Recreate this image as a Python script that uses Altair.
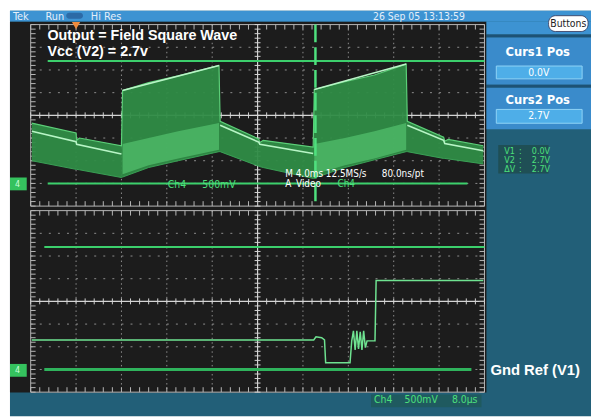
import altair as alt
import pandas as pd
import numpy as np

# Upper trace (Ch4, 4.0 ms/div, 500 mV/div) : envelope of the video field waveform
top_t_ms = [0.1, 4.0, 4.05, 4.3, 8.0, 8.1, 10.4, 13.0, 16.6, 16.7, 20.1, 20.2, 20.5,
            24.9, 25.0, 27.7, 30.3, 33.1, 33.2, 36.4, 36.5, 36.8, 39.9]
top_hi_v = [1.33, 1.11, 0.95, 1.00, 0.83, 2.05, 2.22, 2.37, 2.60, 1.37, 0.98, 0.90, 0.95,
            0.80, 2.07, 2.24, 2.39, 2.63, 1.37, 1.02, 0.93, 0.97, 0.83]
top_lo_v = [0.50, 0.31, 0.31, 0.30, 0.13, 0.14, 0.35, 0.50, 0.70, 0.70, 0.38, 0.37, 0.35,
            0.11, 0.12, 0.35, 0.52, 0.70, 0.70, 0.55, 0.55, 0.54, 0.43]
# brighter overlapping band during the rising part
inner_seg = [1, 1, 1, 1, 2, 2, 2, 2]
inner_t_ms = [8.1, 10.4, 13.0, 16.6, 25.0, 27.7, 30.3, 33.1]
inner_hi_v = [0.87, 1.00, 1.15, 1.33, 0.87, 1.00, 1.15, 1.33]
inner_lo_v = [0.20, 0.40, 0.55, 0.74, 0.20, 0.40, 0.55, 0.74]
# bright trace lines
trace_seg = [1, 1, 1, 1, 2, 2, 3, 3, 3, 3, 4, 4, 5, 5, 5, 5]
trace_t_ms = [0.1, 4.0, 4.05, 8.0, 8.1, 16.6, 16.7, 20.1, 20.2, 24.9, 25.0, 33.1, 33.2, 36.4, 36.5, 39.9]
trace_v = [1.15, 0.92, 0.86, 0.65, 2.05, 2.60, 1.28, 0.91, 0.86, 0.66, 2.07, 2.63, 1.28, 0.95, 0.88, 0.72]

# Lower trace (Ch4, 8.0 us/div, 500 mV/div)
bot_t_us = [0.2, 49.9, 50.3, 51.3, 51.8, 52.0, 56.3, 56.6, 56.9, 57.2, 57.5, 57.8, 58.1,
            58.4, 58.7, 59.0, 59.3, 60.7, 60.9, 79.8]
bot_v = [0.65, 0.65, 0.72, 0.70, 0.65, 0.15, 0.15, 0.63, 0.85, 0.43, 0.85, 0.45, 0.83,
         0.43, 0.85, 0.48, 0.63, 0.63, 1.96, 1.96]

# cursors
cursor_names = ["V1", "V2"]
cursor_v = [0.0, 2.7]
top_cursor_span_ms = [[1.5, 38.5], [1.5, 40.0]]
bot_cursor_span_us = [[2.4, 77.7], [2.4, 80.0]]
trigger_t_ms = 25.1

# scope settings
TOP_MS_DIV = 4.0
BOT_US_DIV = 8.0
V_DIV = 0.5
TOP_GND_ROW = 7.0
BOT_ROW0 = 8.2
BOT_GND_ROW = 15.2

# ---------------- scales (graticule divisions) ----------------
XS = alt.Scale(domain=[-0.5, 591 / 46 - 0.5], nice=False, zero=False)
YS = alt.Scale(domain=[-14 / 23, 397 / 23], nice=False, zero=False, reverse=True)


def X(px):
    return (px - 31) / 46


def Y(py):
    return (py - 22) / 23


def xe(f="x"):
    return alt.X(f"{f}:Q", scale=XS, axis=None)


def ye(f="y"):
    return alt.Y(f"{f}:Q", scale=YS, axis=None)


layers = []


def rect(x1, y1, x2, y2, color, radius=0, stroke=None, sw=0):
    d = pd.DataFrame({"x": [X(x1)], "x2": [X(x2)], "y": [Y(y1)], "y2": [Y(y2)]})
    kw = dict(color=color, cornerRadius=radius)
    if stroke:
        kw.update(stroke=stroke, strokeWidth=sw)
    layers.append(alt.Chart(d).mark_rect(**kw).encode(x=xe(), x2="x2:Q", y=ye(), y2="y2:Q"))


FN = "Liberation Sans Narrow, DejaVu Sans Condensed, Arial Narrow, sans-serif"
FB = "Liberation Sans, Arial, sans-serif"


def txt(s, px, py, size=10, color="white", weight="normal", align="left", font=FN):
    d = pd.DataFrame({"x": [X(px)], "y": [Y(py)], "t": [s]})
    layers.append(alt.Chart(d).mark_text(align=align, baseline="middle", fontSize=size,
                                         color=color, fontWeight=weight, font=font)
                  .encode(x=xe(), y=ye(), text="t:N"))


def rules(df, color, width=1, dash=None, opacity=1):
    kw = dict(color=color, strokeWidth=width, opacity=opacity)
    if dash:
        kw["strokeDash"] = dash
    layers.append(alt.Chart(df).mark_rule(**kw).encode(x=xe(), x2="x2:Q", y=ye(), y2="y2:Q"))


# ---------------- chrome ----------------
TEAL = "#225f78"
BLUE = "#3d93d2"
rect(10, 8, 599, 419, TEAL)
rect(10, 8, 599, 19, BLUE)
rect(10, 19, 493, 395, "#1c1c1c")
rect(493, 19, 599, 32, BLUE)
rect(493, 32, 599, 35, "#1d5275")
rect(493, 35, 599, 83, "#3a8bcb")
rect(493, 83, 599, 86, "#1d5275")
rect(493, 86, 599, 128, "#3a8bcb")
rect(503, 64, 590, 77, "#4eaee8", stroke="#8fd3f6", sw=1)
rect(503, 108, 590, 122, "#4eaee8", stroke="#8fd3f6", sw=1)
rect(556, 13, 596, 29, "white", radius=7, stroke="#335", sw=0.8)
rect(67, 10, 84, 16, "#2c6aa6", radius=3)
rect(10, 177, 27, 190, "#35c25e")
rect(10, 366, 27, 379, "#35c25e")
rect(376, 397, 488, 410, "#1f5a5f")
rect(505, 144, 556, 173, "#1f4f55")

# ---------------- graticule ----------------
minor_x = np.round(np.arange(0, 10.0001, 0.2), 3)
minor_y = np.round(np.arange(0, 8.0001, 0.2), 3)
for r0 in [0.0, BOT_ROW0]:
    # dotted division lines
    hl = [r0 + k for k in [1, 2, 3, 5, 6, 7]]
    rules(pd.DataFrame({"x": 0.0, "x2": 10.0, "y": hl, "y2": hl}), "#8e8e8e", 1, [2, 7.2])
    vl = [1, 2, 3, 4, 6, 7, 8, 9]
    rules(pd.DataFrame({"x": vl, "x2": vl, "y": r0, "y2": r0 + 8}), "#8e8e8e", 1, [1.5, 3.1])
    # frame
    rules(pd.DataFrame({"x": [0, 0, 0, 10], "x2": [10, 10, 0, 10],
                        "y": [r0, r0 + 8, r0, r0], "y2": [r0, r0 + 8, r0 + 8, r0 + 8]}),
          "#b8b8b8", 1)
    # center cross
    rules(pd.DataFrame({"x": [0, 5], "x2": [10, 5], "y": [r0 + 4, r0], "y2": [r0 + 4, r0 + 8]}),
          "#d4d4d4", 1.2)
    # ticks
    tx = pd.DataFrame({"x": minor_x, "x2": minor_x})
    ty = pd.DataFrame({"y": r0 + minor_y, "y2": r0 + minor_y})
    rules(tx.assign(y=r0, y2=r0 + 5 / 23), "#b8b8b8", 1)
    rules(tx.assign(y=r0 + 8, y2=r0 + 8 - 5 / 23), "#b8b8b8", 1)
    rules(tx.assign(y=r0 + 4 - 3 / 23, y2=r0 + 4 + 3 / 23), "#d4d4d4", 1)
    rules(ty.assign(x=0, x2=5 / 46), "#b8b8b8", 1)
    rules(ty.assign(x=10, x2=10 - 5 / 46), "#b8b8b8", 1)
    rules(ty.assign(x=5 - 3 / 46, x2=5 + 3 / 46), "#d4d4d4", 1)

# ---------------- upper waveform ----------------
top = pd.DataFrame({"t": top_t_ms, "hi": top_hi_v, "lo": top_lo_v})
top["x"] = top.t / TOP_MS_DIV
top["y"] = TOP_GND_ROW - top.hi / V_DIV
top["y2"] = TOP_GND_ROW - top.lo / V_DIV
layers.append(alt.Chart(top).mark_area(color="#2f8c46", opacity=0.95)
              .encode(x=xe(), y=ye(), y2="y2:Q"))
inner = pd.DataFrame({"s": inner_seg, "t": inner_t_ms, "hi": inner_hi_v, "lo": inner_lo_v})
inner["x"] = inner.t / TOP_MS_DIV
inner["y"] = TOP_GND_ROW - inner.hi / V_DIV
inner["y2"] = TOP_GND_ROW - inner.lo / V_DIV
layers.append(alt.Chart(inner).mark_area(color="#4bb565", opacity=0.9)
              .encode(x=xe(), y=ye(), y2="y2:Q", detail="s:N"))
layers.append(alt.Chart(top).mark_line(color="#5ccf78", strokeWidth=1.2)
              .encode(x=xe(), y=ye()))
layers.append(alt.Chart(top).mark_line(color="#3aa055", strokeWidth=1)
              .encode(x=xe(), y=ye("y2")))
tr = pd.DataFrame({"s": trace_seg, "t": trace_t_ms, "v": trace_v})
tr["x"] = tr.t / TOP_MS_DIV
tr["y"] = TOP_GND_ROW - tr.v / V_DIV
layers.append(alt.Chart(tr).mark_line(color="#b8f5c6", strokeWidth=1.6)
              .encode(x=xe(), y=ye(), detail="s:N"))

# cursors upper panel
cu = pd.DataFrame({"n": cursor_names, "v": cursor_v,
                   "a": [s[0] for s in top_cursor_span_ms], "b": [s[1] for s in top_cursor_span_ms]})
cu["x"] = cu.a / TOP_MS_DIV
cu["x2"] = cu.b / TOP_MS_DIV
cu["y"] = TOP_GND_ROW - cu.v / V_DIV
cu["y2"] = cu["y"]
rules(cu, "#3ccf6c", 2)
trig = pd.DataFrame({"x": [trigger_t_ms / TOP_MS_DIV]})
trig["x2"] = trig.x
trig["y"] = 0.0
trig["y2"] = 8.0
rules(trig, "#4fe07e", 2.5, [18, 5])

# ---------------- lower waveform ----------------
bot = pd.DataFrame({"t": bot_t_us, "v": bot_v})
bot["x"] = bot.t / BOT_US_DIV
bot["y"] = BOT_GND_ROW - bot.v / V_DIV
layers.append(alt.Chart(bot).mark_line(color="#6fe391", strokeWidth=1.5)
              .encode(x=xe(), y=ye()))
cb = pd.DataFrame({"n": cursor_names, "v": cursor_v,
                   "a": [s[0] for s in bot_cursor_span_us], "b": [s[1] for s in bot_cursor_span_us]})
cb["x"] = cb.a / BOT_US_DIV
cb["x2"] = cb.b / BOT_US_DIV
cb["y"] = BOT_GND_ROW - cb.v / V_DIV
cb["y2"] = cb["y"]
rules(cb.iloc[[1]], "#3ccf6c", 2)
rules(cb.iloc[[0]], "#2fb35c", 3)

# trigger marker
tri = pd.DataFrame({"x": [X(77)], "y": [Y(23)]})
layers.append(alt.Chart(tri).mark_point(shape="triangle-down", filled=True, size=70,
                                        color="#ee8a3c", opacity=1).encode(x=xe(), y=ye()))

# ---------------- texts ----------------
TL = "#e4effa"
txt("Tek", 13, 14, 11, TL)
txt("Run", 46, 14, 11, TL)
txt("Hi Res", 92, 14, 11, TL)
txt("26 Sep 05 13:13:59", 378, 14, 10.5, TL)
txt("Buttons", 576, 21, 10.5, "#222", align="center")
txt("Curs1 Pos", 545, 50, 13, "white", "bold", "center")
txt("0.0V", 546, 71, 10.5, "white", align="center")
txt("Curs2 Pos", 545, 98, 13, "white", "bold", "center")
txt("2.7V", 546, 115, 10.5, "white", align="center")
GR = "#4de07c"
for lab, val, py in [("V1", "0.0V", 150), ("V2", "2.7V", 159), ("ΔV", "2.7V", 168)]:
    txt(lab, 511, py, 9, GR)
    txt(":", 526, py, 9, GR)
    txt(val, 539, py, 9, GR)
txt("Gnd Ref (V1)", 497, 372, 15, "white", "bold", "left", FB)
txt("Ch4", 379, 403, 10.5, GR)
txt("500mV", 410, 403, 10.5, GR)
txt("8.0µs", 458, 403, 10.5, GR)
txt("Output = Field Square Wave", 48, 34, 14.5, "white", "bold", "left", FB)
txt("Vcc (V2) = 2.7v", 48, 50, 14.5, "white", "bold", "left", FB)
txt("M 4.0ms 12.5MS/s", 289, 174, 10, "white")
txt("80.0ns/pt", 387, 174, 10, "white")
txt("A", 289, 184, 10, "white")
txt("Video", 300, 184, 10, "white")
txt("Ch4", 342, 184, 10, GR)
txt("Ch4", 170, 185, 10.5, GR)
txt("500mV", 205, 185, 10.5, GR)
txt("4", 15, 184, 9, "#c8ffd8")
txt("4", 15, 372, 9, "#c8ffd8")

chart = alt.layer(*layers).properties(
    width=591, height=411, background="white", padding=0, autosize="none"
).configure_view(stroke=None)

chart.save("out.html", embed_options={"renderer": "svg", "actions": False})
